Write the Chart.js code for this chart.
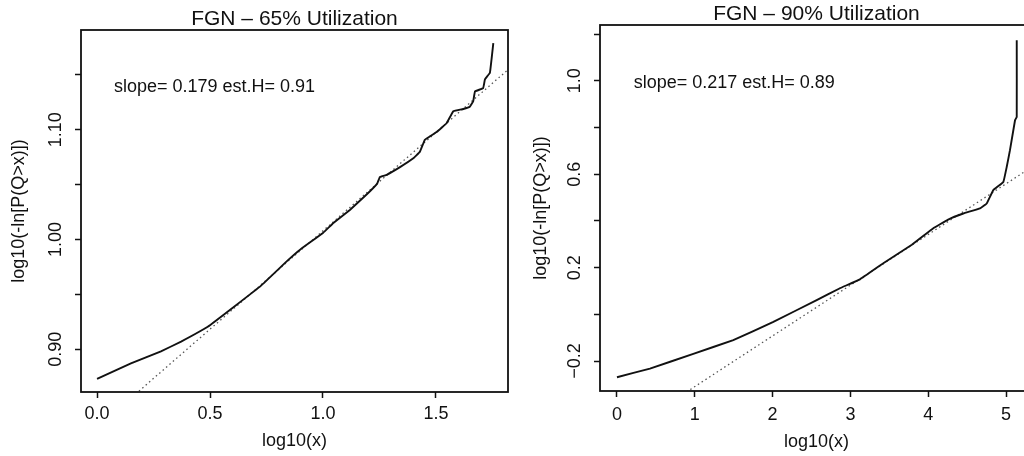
<!DOCTYPE html>
<html>
<head>
<meta charset="utf-8">
<script src="https://cdn.jsdelivr.net/npm/chart.js@4.4.1/dist/chart.umd.min.js"></script>
<style>
  html, body { margin: 0; padding: 0; background: #fff; }
  #wrap { position: relative; width: 1024px; height: 456px; overflow: hidden; }
  .panel { position: absolute; top: 0; height: 456px; overflow: hidden; }
</style>
</head>
<body>
<div id="wrap">
  <div class="panel" style="left:0;width:512px"><canvas id="c65" width="512" height="456"></canvas></div>
  <div class="panel" style="left:512px;width:512px"><canvas id="c90" width="530" height="456"></canvas></div>
</div>
<script>
// 65% utilization panel
const u65X = [0.000, 0.150, 0.283, 0.372, 0.490, 0.608, 0.726, 0.844, 0.900, 1.000, 1.046, 1.119, 1.193,
  1.240, 1.252, 1.282, 1.341, 1.400, 1.429, 1.451, 1.473, 1.503, 1.547, 1.577, 1.621, 1.650, 1.665,
  1.673, 1.709, 1.717, 1.739, 1.746, 1.754];
const u65Y = [0.873, 0.887, 0.898, 0.907, 0.9205, 0.939, 0.958, 0.981, 0.991, 1.006, 1.015, 1.027, 1.041,
  1.051, 1.057, 1.059, 1.066, 1.074, 1.080, 1.091, 1.094, 1.098, 1.106, 1.117, 1.119, 1.121, 1.126,
  1.135, 1.138, 1.146, 1.152, 1.164, 1.179];
const u65FitX = [-0.07, 1.82];
const u65FitY = [0.816, 1.155];
const u65XTicks = [0, 0.5, 1.0, 1.5];
const u65XLabels = ['0.0', '0.5', '1.0', '1.5'];
const u65YTicks = [0.90, 0.95, 1.00, 1.05, 1.10, 1.15];
const u65YLabels = ['0.90', '', '1.00', '', '1.10', ''];

// 90% utilization panel
const u90X = [0.000, 0.424, 0.981, 1.495, 2.010, 2.567, 2.866, 3.123, 3.423, 3.790, 4.066, 4.250, 4.451,
  4.666, 4.752, 4.837, 4.966, 5.009, 5.051, 5.116, 5.138, 5.138];
const u90Y = [-0.269, -0.232, -0.169, -0.110, -0.032, 0.061, 0.112, 0.150, 0.219, 0.298, 0.369, 0.405, 0.432,
  0.454, 0.475, 0.532, 0.567, 0.631, 0.703, 0.831, 0.845, 1.174];
const u90FitX = [-0.22, 5.35];
const u90FitY = [-0.574, 0.635];
const u90XTicks = [0, 1, 2, 3, 4, 5];
const u90XLabels = ['0', '1', '2', '3', '4', '5'];
const u90YTicks = [-0.2, 0.0, 0.2, 0.4, 0.6, 0.8, 1.0, 1.2];
const u90YLabels = ['\u22120.2', '', '0.2', '', '0.6', '', '1.0', ''];

Chart.defaults.font.family = '"Liberation Sans", Arial, Helvetica, sans-serif';
Chart.defaults.color = '#111';

const framePlugin = {
  id: 'frame',
  afterDatasetsDraw(chart) {
    const {ctx, chartArea: a} = chart;
    ctx.save();
    ctx.strokeStyle = '#111';
    ctx.lineWidth = 1.8;
    ctx.strokeRect(a.left, a.top, a.right - a.left, a.bottom - a.top);
    ctx.restore();
  }
};

const notePlugin = {
  id: 'note',
  afterDraw(chart, args, opts) {
    if (!opts.text) return;
    const {ctx, scales} = chart;
    ctx.save();
    ctx.font = '18px "Liberation Sans", Arial, sans-serif';
    ctx.fillStyle = '#111';
    ctx.textBaseline = 'alphabetic';
    ctx.textAlign = 'left';
    ctx.fillText(opts.text, scales.x.getPixelForValue(opts.x), scales.y.getPixelForValue(opts.y));
    ctx.restore();
  }
};

function toPoints(xs, ys) {
  return xs.map((x, i) => ({x: x, y: ys[i]}));
}

function makePanel(id, p) {
  const tickGrid = {drawOnChartArea: false, drawTicks: true, tickLength: 6, tickWidth: 1.5, tickColor: '#111'};
  return new Chart(document.getElementById(id), {
    type: 'scatter',
    data: {
      datasets: [
        {
          data: toPoints(p.x, p.y),
          showLine: true,
          borderColor: '#111',
          borderWidth: 1.9,
          pointRadius: 0,
          tension: 0.06
        },
        {
          data: toPoints(p.fitX, p.fitY),
          showLine: true,
          borderColor: '#555',
          borderWidth: 1.3,
          borderDash: [1.5, 3],
          pointRadius: 0
        }
      ]
    },
    options: {
      responsive: false,
      animation: false,
      layout: {padding: {left: 0, right: p.padRight, top: 0, bottom: 0}},
      plugins: {
        legend: {display: false},
        tooltip: {enabled: false},
        title: {
          display: true,
          text: p.title,
          fullSize: false,
          color: '#111',
          font: {size: 21, weight: 'normal', lineHeight: 1},
          padding: {top: p.titleTop, bottom: 0}
        },
        note: {text: p.note, x: p.noteX, y: p.noteY}
      },
      scales: {
        x: {
          type: 'linear',
          min: p.xMin,
          max: p.xMax,
          afterBuildTicks: s => { s.ticks = p.xTicks.map(v => ({value: v})); },
          afterFit: s => { s.height = p.xHeight; },
          grid: tickGrid,
          border: {display: false},
          ticks: {autoSkip: false, maxRotation: 0, padding: p.xPad, font: {size: 18},
                  callback: (v, i) => p.xLabels[i]},
          title: {display: true, text: 'log10(x)', font: {size: 18}, padding: {top: 0, bottom: p.xTitlePad}}
        },
        y: {
          type: 'linear',
          min: p.yMin,
          max: p.yMax,
          afterBuildTicks: s => { s.ticks = p.yTicks.map(v => ({value: v})); },
          afterFit: s => { s.width = p.yWidth; },
          grid: tickGrid,
          border: {display: false},
          ticks: {autoSkip: false, minRotation: 90, maxRotation: 90, crossAlign: 'center', padding: 1,
                  font: {size: 18}, callback: (v, i) => p.yLabels[i]},
          title: {display: true, text: 'log10(-ln[P(Q>x)])', font: {size: 18}, padding: {top: p.yTitlePad, bottom: 0}}
        }
      }
    },
    plugins: [framePlugin, notePlugin]
  });
}

makePanel('c65', {
  title: 'FGN \u2013 65% Utilization',
  x: u65X, y: u65Y, fitX: u65FitX, fitY: u65FitY,
  xMin: -0.071, xMax: 1.819, yMin: 0.861, yMax: 1.191,
  xTicks: u65XTicks, xLabels: u65XLabels, yTicks: u65YTicks, yLabels: u65YLabels,
  padRight: 4, titleTop: 9, yWidth: 81, xHeight: 64, xPad: 5, xTitlePad: 4, yTitlePad: 8,
  note: 'slope= 0.179 est.H= 0.91', noteX: 0.075, noteY: 1.1347
});

makePanel('c90', {
  title: 'FGN \u2013 90% Utilization',
  x: u90X, y: u90Y, fitX: u90FitX, fitY: u90FitY,
  xMin: -0.218, xMax: 5.347, yMin: -0.328, yMax: 1.239,
  xTicks: u90XTicks, xLabels: u90XLabels, yTicks: u90YTicks, yLabels: u90YLabels,
  padRight: 9, titleTop: 4, yWidth: 88, xHeight: 65, xPad: 7, xTitlePad: 3, yTitlePad: 18,
  note: 'slope= 0.217 est.H= 0.89', noteX: 0.215, noteY: 0.969
});
</script>
</body>
</html>
